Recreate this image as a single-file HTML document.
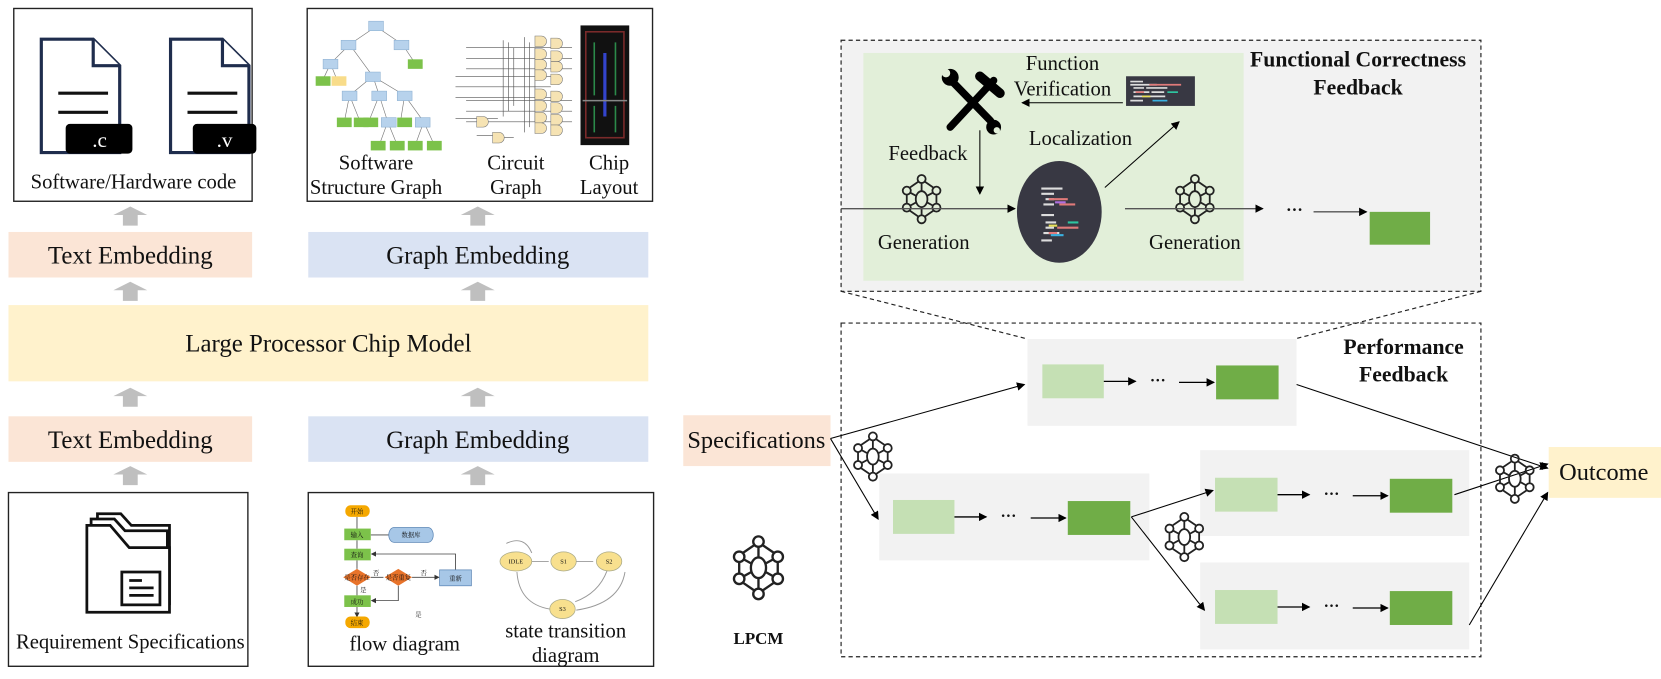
<!DOCTYPE html>
<html><head><meta charset="utf-8"><style>
html,body{margin:0;padding:0;background:#fff}
svg{display:block}
text{font-family:"Liberation Serif","Noto Serif CJK SC",serif;fill:#111}
.cj{font-family:"Liberation Sans","Noto Sans CJK SC",sans-serif;font-size:6px}
</style></head><body>
<svg width="1661" height="679" viewBox="0 0 1568 641" preserveAspectRatio="none" xmlns="http://www.w3.org/2000/svg">
<defs>
<marker id="ah" markerWidth="8" markerHeight="8" refX="7" refY="4" orient="auto" markerUnits="userSpaceOnUse"><path d="M0,0 L8,4 L0,8 z" fill="#000"/></marker>
<marker id="sa" markerWidth="5" markerHeight="5" refX="4" refY="2.5" orient="auto" markerUnits="userSpaceOnUse"><path d="M0,0 L5,2.5 L0,5 z" fill="#333"/></marker>
<g id="net" fill="none" stroke="#222" stroke-width="1.7">
<ellipse cx="0" cy="0" rx="5.5" ry="7.5"/>
<circle cx="0" cy="-19" r="3.8"/><circle cx="0" cy="19" r="3.8"/>
<circle cx="-14" cy="-8" r="3.8"/><circle cx="14" cy="-8" r="3.8"/>
<circle cx="-14" cy="8" r="3.8"/><circle cx="14" cy="8" r="3.8"/>
<path d="M0,-15 V-7.5 M0,7.5 V15 M-3,-16.5 L-11,-11 M3,-16.5 L11,-11 M-3,16.5 L-11,11 M3,16.5 L11,11 M-14,-4 V4 M14,-4 V4 M-10.5,-6 L-5,-3 M10.5,-6 L5,-3 M-10.5,6 L-5,3 M10.5,6 L5,3"/>
</g>
<g id="upa"><path d="M-16,8 L0,0 L16,8 L7,8 L7,18 L-7,18 L-7,8 z" fill="#bfbfbf"/></g>
</defs>

<rect x="13" y="8" width="225" height="182" fill="#fff" stroke="#222" stroke-width="1.3"/>
<rect x="290" y="8" width="326" height="182" fill="#fff" stroke="#222" stroke-width="1.3"/>
<g fill="#fff" stroke="#1f2d4d" stroke-width="3">
<path d="M39,37 H88 L113,62 V144 H39 Z"/><path d="M88,37 V62 H113"/>
<path d="M161,37 H210 L235,62 V144 H161 Z"/><path d="M210,37 V62 H235"/>
</g>
<g stroke="#111" stroke-width="3"><path d="M55,88 H102 M55,106 H102 M177,88 H224 M177,106 H224"/></g>
<rect x="62" y="117" width="63" height="28" rx="4" fill="#000"/>
<rect x="182" y="117" width="60" height="28" rx="4" fill="#000"/>
<text x="94" y="139" font-size="20" text-anchor="middle" style="fill:#fff">.c</text>
<text x="212" y="139" font-size="20" text-anchor="middle" style="fill:#fff">.v</text>
<text x="126" y="178" font-size="19.5" text-anchor="middle">Software/Hardware code</text>
<g stroke="#777" stroke-width="0.6">
<path d="M355,25 L330,42 M355,25 L380,42 M330,42 L312,60 M330,42 L352,72 M380,42 L392,60 M312,60 L305,75 M312,60 L318,75 M352,72 L330,90 M352,72 L358,90 M352,72 L382,90 M330,90 L325,115 M330,90 L340,115 M358,90 L348,115 M358,90 L366,115 M382,90 L378,115 M382,90 L400,115 M366,115 L358,137 M366,115 L375,137 M400,115 L392,137 M400,115 L410,137"/>
</g>
<g fill="#b7d2ec" stroke="#8aaed0" stroke-width="0.5">
<rect x="348" y="20" width="14" height="9"/><rect x="322" y="38" width="14" height="9"/><rect x="372" y="38" width="14" height="9"/>
<rect x="305" y="56" width="14" height="9"/><rect x="345" y="68" width="14" height="9"/>
<rect x="323" y="86" width="14" height="9"/><rect x="351" y="86" width="14" height="9"/><rect x="375" y="86" width="14" height="9"/>
<rect x="360" y="111" width="14" height="9"/><rect x="392" y="111" width="14" height="9"/>
</g>
<g fill="#7cc24a">
<rect x="385" y="56" width="14" height="9"/><rect x="298" y="72" width="14" height="9"/>
<rect x="318" y="111" width="14" height="9"/><rect x="334" y="111" width="14" height="9"/><rect x="343" y="111" width="14" height="9"/><rect x="375" y="111" width="14" height="9"/>
<rect x="350" y="133" width="14" height="9"/><rect x="368" y="133" width="14" height="9"/><rect x="385" y="133" width="14" height="9"/><rect x="403" y="133" width="14" height="9"/>
</g>
<rect x="313" y="72" width="14" height="9" fill="#f8dc8a"/>
<g stroke="#555" stroke-width="0.6" fill="none">
<path d="M430,72 H520 M430,82 H520 M430,92 H520 M430,112 H470 M475,38 V110 M480,40 V105 M485,45 V100 M495,35 V125 M500,40 V120 M505,45 V115 M440,45 H540 M440,55 H540 M440,65 H540 M440,95 H540 M440,105 H540 M440,115 H540 M450,128 H470 V130 H485"/>
</g>
<g fill="#f6e3b3" stroke="#777" stroke-width="0.5">
<path d="M505,34 h6 a5,5 0 0 1 0,10 h-6z"/><path d="M505,46 h6 a5,5 0 0 1 0,10 h-6z"/><path d="M505,56 h6 a5,5 0 0 1 0,10 h-6z"/><path d="M505,66 h6 a5,5 0 0 1 0,10 h-6z"/>
<path d="M505,84 h6 a5,5 0 0 1 0,10 h-6z"/><path d="M505,95 h6 a5,5 0 0 1 0,10 h-6z"/><path d="M505,106 h6 a5,5 0 0 1 0,10 h-6z"/><path d="M505,116 h6 a5,5 0 0 1 0,10 h-6z"/>
<path d="M520,36 h6 a5,5 0 0 1 0,10 h-6z"/><path d="M520,48 h6 a5,5 0 0 1 0,10 h-6z"/><path d="M520,58 h6 a5,5 0 0 1 0,10 h-6z"/><path d="M520,70 h6 a5,5 0 0 1 0,10 h-6z"/>
<path d="M520,86 h6 a5,5 0 0 1 0,10 h-6z"/><path d="M520,97 h6 a5,5 0 0 1 0,10 h-6z"/><path d="M520,108 h6 a5,5 0 0 1 0,10 h-6z"/><path d="M520,118 h6 a5,5 0 0 1 0,10 h-6z"/>
<path d="M465,125 h6 a5,5 0 0 1 0,10 h-6z"/><path d="M450,110 h6 a5,5 0 0 1 0,10 h-6z"/>
</g>
<rect x="548" y="24" width="46" height="113" fill="#111"/>
<g fill="none" stroke-width="1.5">
<rect x="553" y="30" width="36" height="100" stroke="#7a2a2a"/>
<path d="M561,40 V90 M581,40 V90 M561,100 V125 M581,100 V125" stroke="#2b8a4a"/>
<path d="M571,50 V110" stroke="#3344cc" stroke-width="3"/>
<path d="M550,95 H592" stroke="#888"/>
</g>
<text x="355" y="160" font-size="19.5" text-anchor="middle">Software</text>
<text x="355" y="183" font-size="19.5" text-anchor="middle">Structure Graph</text>
<text x="487" y="160" font-size="19.5" text-anchor="middle">Circuit</text>
<text x="487" y="183" font-size="19.5" text-anchor="middle">Graph</text>
<text x="575" y="160" font-size="19.5" text-anchor="middle">Chip</text>
<text x="575" y="183" font-size="19.5" text-anchor="middle">Layout</text>

<use href="#upa" x="123" y="195"/><use href="#upa" x="451" y="195"/>
<rect x="8" y="219" width="230" height="43" fill="#fbe5d6"/>
<rect x="291" y="219" width="321" height="43" fill="#dae3f3"/>
<text x="123" y="249" font-size="23.5" text-anchor="middle">Text Embedding</text>
<text x="451" y="249" font-size="23.5" text-anchor="middle">Graph Embedding</text>
<use href="#upa" x="123" y="266"/><use href="#upa" x="451" y="266"/>
<rect x="8" y="288" width="604" height="72" fill="#fff2cc"/>
<text x="310" y="332" font-size="23.5" text-anchor="middle">Large Processor Chip Model</text>
<use href="#upa" x="123" y="366"/><use href="#upa" x="451" y="366"/>
<rect x="8" y="393" width="230" height="43" fill="#fbe5d6"/>
<rect x="291" y="393" width="321" height="43" fill="#dae3f3"/>
<text x="123" y="423" font-size="23.5" text-anchor="middle">Text Embedding</text>
<text x="451" y="423" font-size="23.5" text-anchor="middle">Graph Embedding</text>
<use href="#upa" x="123" y="440"/><use href="#upa" x="451" y="440"/>
<rect x="8" y="465" width="226" height="164" fill="#fff" stroke="#222" stroke-width="1.3"/>
<rect x="291" y="465" width="326" height="164" fill="#fff" stroke="#222" stroke-width="1.3"/>
<g fill="#fff" stroke="#111" stroke-width="2.6">
<path d="M92,485 H114 L124,496 H160 V570 H92 Z"/>
<path d="M86,490 H108 L118,501 H158 V574 H86 Z"/>
<path d="M82,496 H104 L122,517 H160 V578 H82 Z"/>
<rect x="115" y="540" width="36" height="31"/>
<path d="M122,548 H134 M122,555 H145 M122,562 H145"/>
</g>
<text x="123" y="612" font-size="19.5" text-anchor="middle">Requirement Specifications</text>
<g stroke="#444" stroke-width="0.8" fill="none">
<path d="M337,488 V499 M337,510 V518 M337,529 V537 M337,553 V562 M337,573 V582" marker-end="url(#sa)"/>
<path d="M350,505 H369 M350,545 H362 M389,545 H414" marker-end="url(#sa)"/>
<path d="M430,538 V523 H351" marker-end="url(#sa)"/>
<path d="M376,553 V567 H351" marker-end="url(#sa)"/>
</g>
<rect x="326" y="477" width="23" height="11" rx="5" fill="#f5a800"/>
<rect x="325" y="499" width="25" height="11" fill="#7cc24a"/>
<path d="M372,498 h32 a5,7 0 0 1 0,14 h-32 a5,7 0 0 1 0,-14z" fill="#a7c7e7" stroke="#5b86b5" stroke-width="0.7"/>
<rect x="325" y="518" width="25" height="11" fill="#7cc24a"/>
<path d="M324,545 l13,-8 13,8 -13,8z M363,545 l13,-8 13,8 -13,8z" fill="#e8732a"/>
<rect x="415" y="538" width="30" height="15" fill="#a7c7e7" stroke="#5b86b5" stroke-width="0.7"/>
<rect x="325" y="562" width="25" height="11" fill="#7cc24a"/>
<rect x="326" y="582" width="23" height="11" rx="5" fill="#f5a800"/>
<g class="cj" text-anchor="middle">
<text x="337" y="485">开始</text><text x="337" y="507">输入</text><text x="388" y="507">数据库</text><text x="337" y="526">查询</text>
<text x="337" y="547">是否存在</text><text x="376" y="547">是否重复</text><text x="430" y="548">重新</text>
<text x="337" y="570">成功</text><text x="337" y="590">结束</text>
<text x="355" y="543">否</text><text x="400" y="543">否</text><text x="343" y="559">是</text><text x="395" y="582">是</text>
</g>
<g stroke="#999" stroke-width="0.9" fill="none">
<path d="M502,522 Q495,505 478,513 M500,530 H518 M544,530 H560 M573,539 Q565,560 543,568 M519,575 Q490,570 488,540 M544,576 Q585,570 590,540"/>
</g>
<ellipse cx="487" cy="530" rx="15" ry="9" fill="#f8e08e" stroke="#aa8" stroke-width="0.7"/>
<ellipse cx="532" cy="530" rx="12" ry="9" fill="#f8e08e" stroke="#aa8" stroke-width="0.7"/>
<ellipse cx="575" cy="530" rx="12" ry="9" fill="#f8e08e" stroke="#aa8" stroke-width="0.7"/>
<ellipse cx="531" cy="575" rx="12" ry="9" fill="#f8e08e" stroke="#aa8" stroke-width="0.7"/>
<g class="cj" text-anchor="middle"><text x="487" y="532">IDLE</text><text x="532" y="532">S1</text><text x="575" y="532">S2</text><text x="531" y="577">S3</text></g>
<text x="382" y="614" font-size="19.5" text-anchor="middle">flow diagram</text>
<text x="534" y="602" font-size="19.5" text-anchor="middle">state transition</text>
<text x="534" y="625" font-size="19.5" text-anchor="middle">diagram</text>

<rect x="794" y="38" width="604" height="237" fill="#f2f2f2" stroke="#222" stroke-width="1.1" stroke-dasharray="4,3"/>
<rect x="815" y="50" width="359" height="215" fill="#e2efd9"/>
<text x="1282" y="63" font-size="20.5" font-weight="bold" text-anchor="middle">Functional Correctness</text>
<text x="1282" y="89" font-size="20.5" font-weight="bold" text-anchor="middle">Feedback</text>
<g stroke="#000" stroke-linecap="round">
<path d="M897,120 L938,76" stroke-width="7"/>
<path d="M900,78 L935,114" stroke-width="7"/>
<path d="M925,72 L944,88" stroke-width="9"/>
</g>
<circle cx="897" cy="73" r="8" fill="#000"/><circle cx="893" cy="69" r="4" fill="#e2efd9"/>
<circle cx="938" cy="120" r="7" fill="#000"/><circle cx="941" cy="123" r="3" fill="#e2efd9"/>
<text x="1003" y="66" font-size="19.5" text-anchor="middle">Function</text>
<text x="1003" y="90" font-size="19.5" text-anchor="middle">Verification</text>
<rect x="1063" y="72" width="65" height="28" fill="#383843"/>
<g stroke-width="1.6"><path d="M1067,77 h12 M1067,80 h25 M1070,83 h10 M1082,83 h20 M1070,87 h15 M1087,87 h12 M1070,91 h30 M1067,95 h12" stroke="#ddd"/><path d="M1085,80 h30 M1072,87 h8" stroke="#e07a7a"/><path d="M1102,87 h10" stroke="#2ec4a0"/><path d="M1078,91 h8" stroke="#e8e05a"/><path d="M1088,95 h14" stroke="#3ab0e0"/></g>
<line x1="1060" y1="97" x2="965" y2="97" stroke="#000" marker-end="url(#ah)"/>
<text x="876" y="151" font-size="19.5" text-anchor="middle">Feedback</text>
<line x1="925" y1="123" x2="925" y2="183" stroke="#000" marker-end="url(#ah)"/>
<text x="1020" y="137" font-size="19.5" text-anchor="middle">Localization</text>
<line x1="1043" y1="177" x2="1113" y2="115" stroke="#000" marker-end="url(#ah)"/>
<use href="#net" x="870" y="188"/>
<use href="#net" x="1128" y="188"/>
<line x1="794" y1="197" x2="958" y2="197" stroke="#555" stroke-width="1.3" marker-end="url(#ah)"/>
<text x="872" y="235" font-size="19.5" text-anchor="middle">Generation</text>
<ellipse cx="1000" cy="200" rx="40" ry="48" fill="#383843"/>
<g stroke-width="2"><path d="M983,178 h20 M983,183 h12 M987,188 h8 M985,193 h10 M983,203 h12 M987,210 h10 M987,215 h8 M985,220 h15 M983,227 h10" stroke="#ddd"/><path d="M990,188 h18 M1000,193 h15 M998,215 h20 M990,220 h8" stroke="#e07a7a"/><path d="M996,191 h10" stroke="#b070e0"/><path d="M1008,210 h10" stroke="#2ec4a0"/><path d="M990,213 h8" stroke="#e8e05a"/><path d="M992,222 h12" stroke="#3ab0e0"/></g>
<line x1="1062" y1="197" x2="1192" y2="197" stroke="#555" stroke-width="1.3" marker-end="url(#ah)"/>
<text x="1128" y="235" font-size="19.5" text-anchor="middle">Generation</text>
<text x="1222" y="203" font-size="16" font-weight="bold" text-anchor="middle">···</text>
<line x1="1240" y1="200" x2="1290" y2="200" stroke="#555" stroke-width="1.3" marker-end="url(#ah)"/>
<rect x="1293" y="200" width="57" height="31" fill="#70ad47"/>

<path d="M794,275 L970,320 M1398,275 L1222,320" stroke="#222" stroke-width="1.1" stroke-dasharray="4,3"/>
<rect x="794" y="305" width="604" height="315" fill="none" stroke="#222" stroke-width="1.1" stroke-dasharray="4,3"/>
<text x="1325" y="334" font-size="20.5" font-weight="bold" text-anchor="middle">Performance</text>
<text x="1325" y="360" font-size="20.5" font-weight="bold" text-anchor="middle">Feedback</text>

<g fill="#f2f2f2"><rect x="970" y="320" width="254" height="82"/><rect x="830" y="447" width="255" height="82"/><rect x="1133" y="425" width="254" height="81"/><rect x="1133" y="531" width="254" height="82"/></g>
<g fill="#c5e0b4"><rect x="984" y="344" width="58" height="32"/><rect x="843" y="472" width="58" height="32"/><rect x="1147" y="451" width="59" height="32"/><rect x="1147" y="557" width="59" height="32"/></g>
<g fill="#70ad47"><rect x="1148" y="345" width="59" height="32"/><rect x="1008" y="473" width="59" height="32"/><rect x="1312" y="452" width="59" height="32"/><rect x="1312" y="558" width="59" height="32"/></g>
<g stroke="#000" stroke-width="1.2">
<line x1="1042" y1="360" x2="1072" y2="360" marker-end="url(#ah)"/><line x1="1113" y1="361" x2="1146" y2="361" marker-end="url(#ah)"/>
<line x1="901" y1="488" x2="931" y2="488" marker-end="url(#ah)"/><line x1="973" y1="489" x2="1006" y2="489" marker-end="url(#ah)"/>
<line x1="1206" y1="467" x2="1236" y2="467" marker-end="url(#ah)"/><line x1="1277" y1="468" x2="1310" y2="468" marker-end="url(#ah)"/>
<line x1="1206" y1="573" x2="1236" y2="573" marker-end="url(#ah)"/><line x1="1277" y1="574" x2="1310" y2="574" marker-end="url(#ah)"/>
</g>
<g font-size="15" font-weight="bold" text-anchor="middle"><text x="1093" y="364">···</text><text x="952" y="492">···</text><text x="1257" y="471">···</text><text x="1257" y="577">···</text></g>

<rect x="645" y="392" width="139" height="48" fill="#fbe5d6"/>
<text x="714" y="423" font-size="23" text-anchor="middle">Specifications</text>
<rect x="1462" y="422" width="106" height="48" fill="#fff2cc"/>
<text x="1514" y="453" font-size="23" text-anchor="middle">Outcome</text>
<g stroke="#000" stroke-width="1" fill="none">
<line x1="784" y1="414" x2="967" y2="363" marker-end="url(#ah)"/>
<line x1="784" y1="414" x2="829" y2="490" marker-end="url(#ah)"/>
<line x1="1224" y1="363" x2="1461" y2="442" marker-end="url(#ah)"/>
<line x1="1068" y1="488" x2="1145" y2="463" marker-end="url(#ah)"/>
<line x1="1068" y1="488" x2="1137" y2="576" marker-end="url(#ah)"/>
<line x1="1373" y1="467" x2="1461" y2="438" marker-end="url(#ah)"/>
<line x1="1387" y1="590" x2="1461" y2="465" marker-end="url(#ah)"/>
</g>
<use href="#net" x="824" y="431"/>
<use href="#net" x="1118" y="507"/>
<use href="#net" x="1430" y="452"/>
<g transform="translate(716,536) scale(1.3)"><use href="#net"/></g>
<text x="716" y="608" font-size="16" font-weight="bold" text-anchor="middle">LPCM</text>
</svg>
</body></html>
